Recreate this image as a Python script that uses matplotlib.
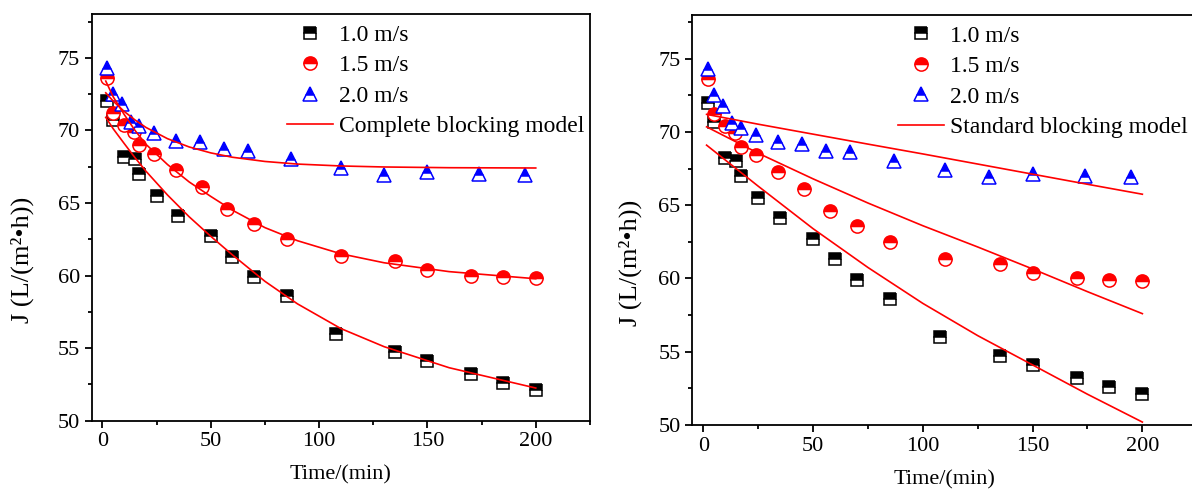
import matplotlib
matplotlib.use('Agg')
from matplotlib import pyplot as plt
from matplotlib.ticker import MultipleLocator

plt.rcParams['font.family'] = ['Liberation Serif', 'DejaVu Serif']

# measured flux, J (L/(m2 h)) vs time (min)
t_10 = [2, 5, 10, 15, 17, 25, 35, 50, 60, 70, 85, 108, 135, 150, 170, 185, 200]
J_10 = [72.0, 70.7, 68.2, 68.0, 67.0, 65.5, 64.1, 62.7, 61.3, 59.9, 58.6, 56.0, 54.7, 54.1, 53.2, 52.6, 52.1]

t_15 = [2, 5, 10, 14.5, 17, 24, 34, 46, 57.5, 70, 85, 110, 135, 150, 170, 185, 200]
J_15 = [73.6, 71.2, 70.4, 69.9, 69.0, 68.4, 67.3, 66.1, 64.6, 63.55, 62.5, 61.35, 61.0, 60.4, 60.0, 59.9, 59.8]

t_20 = [2, 5, 9, 13, 17, 24, 34, 45, 56, 67, 87, 110, 130, 150, 174, 195]
J_20 = [74.3, 72.5, 71.8, 70.6, 70.3, 69.8, 69.3, 69.2, 68.7, 68.6, 68.0, 67.4, 66.9, 67.1, 67.0, 66.9]

# complete blocking model
cb_t = [1.5, 5, 10, 15, 20, 30, 40, 50, 60, 75, 90, 110, 130, 160, 200]
cb_10 = [70.9, 70.1, 69.1, 68.12, 67.2, 65.55, 64.05, 62.7, 61.42, 59.6, 58.05, 56.35, 55.1, 53.65, 52.25]
cb_15 = [73.4, 72.3, 71.1, 70.0, 69.05, 67.65, 66.45, 65.45, 64.5, 63.3, 62.4, 61.5, 60.88, 60.27, 59.78]
cb_20 = [72.59, 72.01, 71.31, 70.72, 70.21, 69.43, 68.86, 68.45, 68.15, 67.86, 67.68, 67.55, 67.48, 67.43, 67.41]

# standard blocking model
sb_t = [1.5, 25, 50, 75, 100, 125, 150, 175, 200]
sb_10 = [69.1, 66.3, 63.4, 60.75, 58.3, 56.1, 54.1, 52.1, 50.2]
sb_15 = [70.35, 68.55, 66.8, 65.15, 63.6, 62.15, 60.65, 59.1, 57.6]
sb_20 = [71.2, 70.53, 69.85, 69.17, 68.5, 67.81, 67.12, 66.43, 65.75]

labels = ['1.0 m/s', '1.5 m/s', '2.0 m/s']


def draw_panel(ax, model_t, models, model_label, legend_x, ylab_x):
    style = dict(ls='none', fillstyle='top', markerfacecoloralt='white', mew=1.1)
    ax.plot(t_10, J_10, marker='s', ms=9, color='black', mec='black', label=labels[0], **style)
    ax.plot(t_15, J_15, marker='o', ms=9.5, color='red', mec='red', label=labels[1], **style)
    ax.plot(t_20, J_20, marker='^', ms=10.5, color='blue', mec='blue', label=labels[2], **style)
    for i, m in enumerate(models):
        ax.plot(model_t, m, color='red', lw=1.2, label=model_label if i == 0 else None)

    ax.set_xlim(-5, 225)
    ax.set_ylim(50, 78)
    ax.set_xticks([0, 50, 100, 150, 200])
    ax.set_yticks([50, 55, 60, 65, 70, 75])
    ax.xaxis.set_minor_locator(MultipleLocator(25))
    ax.yaxis.set_minor_locator(MultipleLocator(2.5))
    ax.tick_params(which='both', direction='out', width=1.3, labelsize=16, top=False, right=False)
    ax.tick_params(which='major', length=5)
    ax.tick_params(which='minor', length=3)
    for s in ax.spines.values():
        s.set_linewidth(1.3)

    ax.set_xlabel('Time/(min)', fontsize=16)
    ax.set_ylabel('J (L/(m²•h))', fontsize=19)
    ax.xaxis.set_label_coords(0.5, -0.11)
    ax.yaxis.set_label_coords(ylab_x, 0.395)

    ax.legend(loc='upper left', bbox_to_anchor=(legend_x, 0.975), frameon=False, fontsize=17,
              handlelength=1.95, handletextpad=0.25, borderpad=0, borderaxespad=0,
              labelspacing=0.38, numpoints=1)


fig = plt.figure(figsize=(11.92, 4.91), dpi=100)
ax1 = fig.add_axes([0.0769, 0.1432, 0.418, 0.8277])
ax2 = fig.add_axes([0.5808, 0.1344, 0.4236, 0.8356])

draw_panel(ax1, cb_t, [cb_10, cb_15, cb_20], 'Complete blocking model', 0.392, -0.115)
draw_panel(ax2, sb_t, [sb_10, sb_15, sb_20], 'Standard blocking model', 0.407, -0.1)

plt.savefig('out.png', dpi=100)
